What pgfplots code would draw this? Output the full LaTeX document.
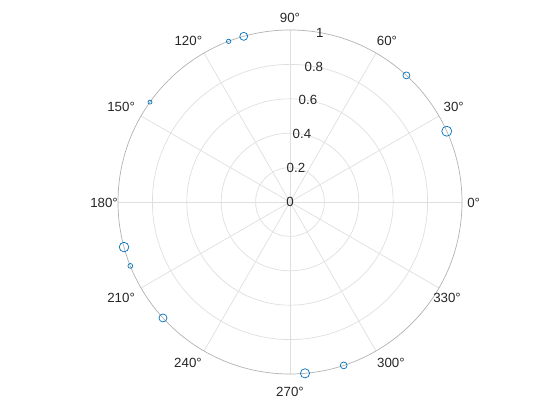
\documentclass[border=0pt]{standalone}
\usepackage{pgfplots}
\pgfplotsset{compat=1.18}
\usepackage{pgfplotstable}
\usepackage{fontspec}
\setmainfont{Liberation Sans}

\definecolor{mblue}{RGB}{0,114,189}
\definecolor{gridgray}{RGB}{223,223,223}
\definecolor{rimgray}{RGB}{178,178,178}
\definecolor{labelgray}{RGB}{38,38,38}

% angle (deg), radius, marker radius (pt)
\pgfplotstableread{
t r s
105.6 1 4.0
110.9 1 2.2
47.4 1 3.5
24.3 1 5.0
144.5 1 2.0
195.2 1 4.8
201.8 1 2.4
222.4 1 4.0
275.0 1 4.6
288.2 1 3.4
}\pts

% angle label centres (x, y in axis units)
\pgfplotstableread{
x y lab
1.068 -0.006 0°
0.952 0.554 30°
0.564 0.936 60°
0.000 1.070 90°
-0.591 0.937 120°
-0.982 0.554 150°
-1.081 -0.006 180°
-0.982 -0.558 210°
-0.593 -0.935 240°
0.000 -1.102 270°
0.587 -0.935 300°
0.913 -0.558 330°
}\angs

\begin{document}
\begin{tikzpicture}[every node/.style={font=\fontsize{13.3}{16}\selectfont, text=labelgray}]
\begin{axis}[
  x=172pt, y=172pt,
  xmin=-1.686, xmax=1.5698,
  ymin=-1.2674, ymax=1.1744,
  hide axis, clip=false,
]
% spokes every 30 degrees
\pgfplotsinvokeforeach{0,30,60,90,120,150,180,210,240,270,300,330}{
  \draw[gridgray, line width=0.7pt] (axis cs:0,0) -- (axis cs:{cos(#1)},{sin(#1)});
}
% radial grid circles
\pgfplotsinvokeforeach{0.2,0.4,0.6,0.8}{
  \draw[gridgray, line width=0.7pt] (axis cs:0,0) circle[radius=#1];
}
\draw[rimgray, line width=0.7pt] (axis cs:0,0) circle[radius=1];

% angle labels
\addplot[only marks, mark=none, nodes near coords, point meta=explicit symbolic,
  nodes near coords style={anchor=center, inner sep=0pt, font=\fontsize{13.3}{16}\selectfont, text=labelgray}]
  table[x=x, y=y, meta=lab]{\angs};

% radius labels along 80 degrees
\node at (axis cs:0,0) {0};
\node at (axis cs:{0.2*cos(80)},{0.2*sin(80)}) {0.2};
\node at (axis cs:{0.4*cos(80)},{0.4*sin(80)}) {0.4};
\node at (axis cs:{0.6*cos(80)},{0.6*sin(80)}) {0.6};
\node at (axis cs:{0.8*cos(80)},{0.8*sin(80)}) {0.8};
\node at (axis cs:{cos(80)},{sin(80)}) {1};

\addplot[scatter, only marks, mark=o, data cs=polar,
  scatter/use mapped color={draw=mblue, fill=none},
  mark options={line width=0.7pt},
  visualization depends on={\thisrow{s}\as\ms},
  scatter/@pre marker code/.append style={/tikz/mark size=\ms}]
  table[x=t, y=r]{\pts};
\end{axis}
\pgfresetboundingbox
\path (current axis.south west) rectangle (current axis.north east);
\end{tikzpicture}
\end{document}
